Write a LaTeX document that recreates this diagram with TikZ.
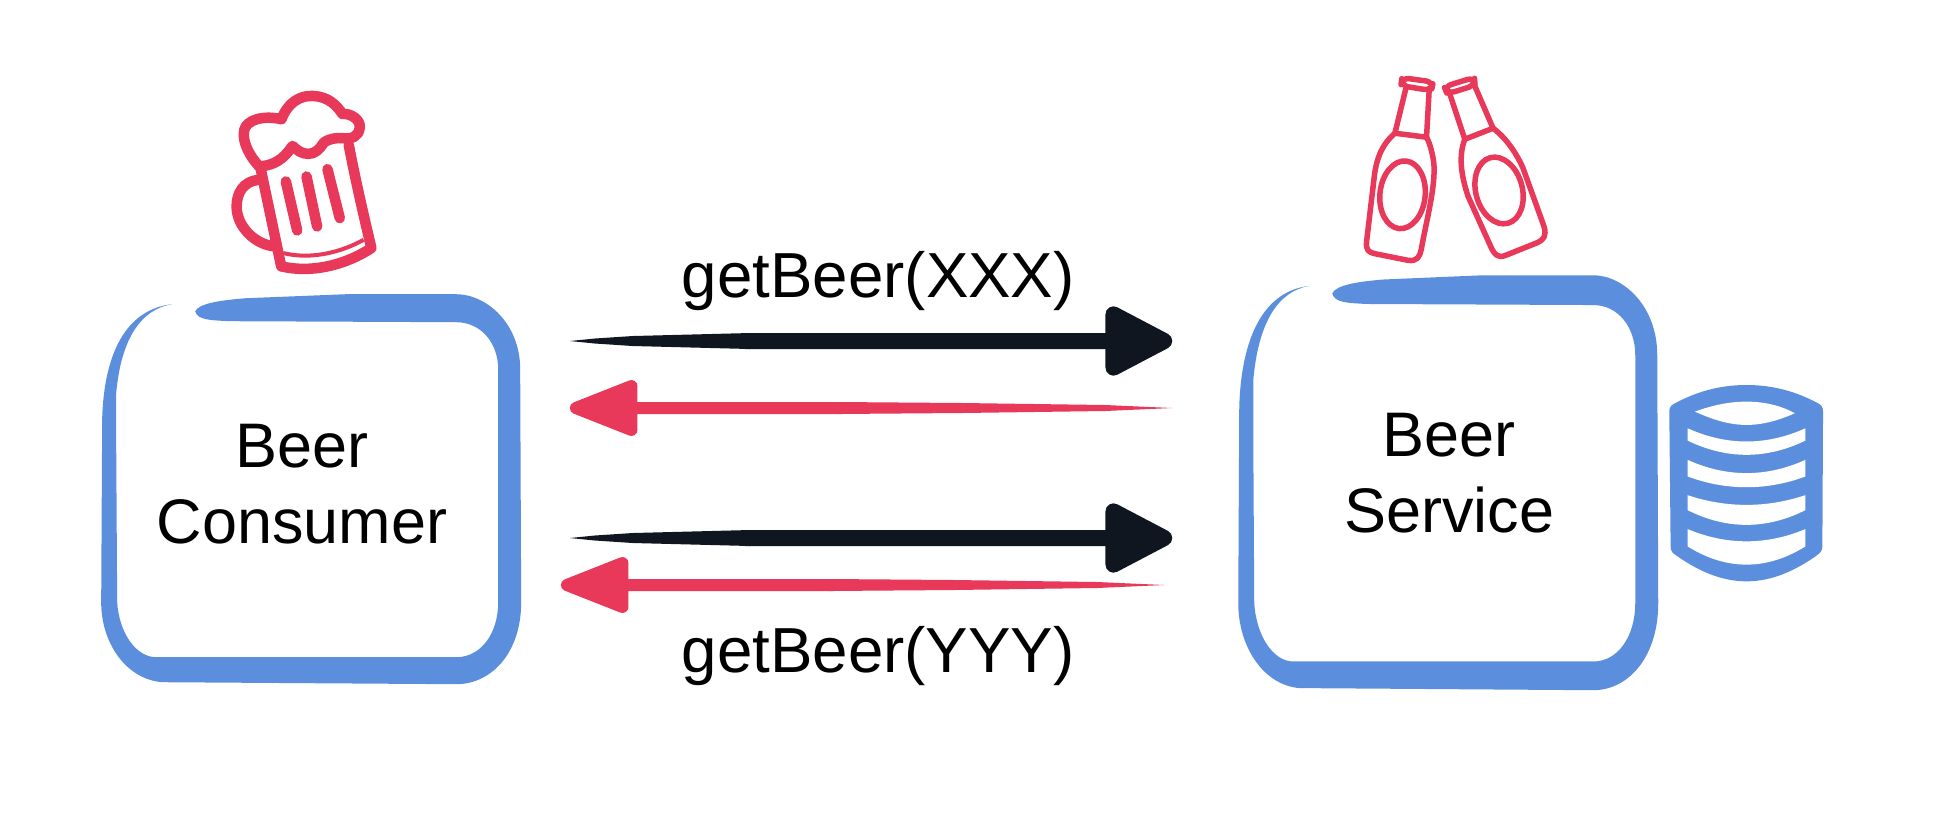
\documentclass[tikz,border=0pt]{standalone}
\usepackage{fontspec}
\setmainfont{Liberation Sans}
\definecolor{brush}{HTML}{5B8FDE}
\definecolor{beer}{HTML}{E8395A}
\definecolor{ink}{HTML}{10161F}
\usetikzlibrary{arrows.meta,positioning}
\tikzset{
  x=0.01cm,y=-0.01cm,
  boxlab/.style={font=\fontsize{17.9}{21.6}\selectfont,align=center,inner sep=0pt,minimum width=4cm},
  msglab/.style={font=\fontsize{18.1}{21.6}\selectfont,inner sep=0pt},
  reqarr/.style={draw=ink,line width=.16cm,shorten <=1.75cm,-{Triangle[length=.77cm,width=.75cm,round]}},
  resparr/.style={draw=beer,line width=.12cm,shorten >=3.3cm,{Triangle[length=.79cm,width=.58cm,round]}-},
  mugline/.style={draw=beer,line width=.105cm,line join=round,line cap=round},
  bottleline/.style={draw=beer,line width=.055cm,line join=round},
  reqtail/.pic={\fill[ink] (0,0) -- (25,-2.5) -- (63,-5) -- (180,-8) -- (180,8) -- (63,5) -- (25,2.5) -- cycle;},
  resptail/.pic={\fill[beer] (0,0) -- (-67,-3) -- (-210,-5) -- (-335,-6) -- (-335,6) -- (-210,5) -- (-67,3) -- cycle;},
  brushframe/.pic={
    \fill[brush] (94,18) .. controls (98,10) and (120,7) .. (145,5) -- (245,1) -- (355,1)
      .. controls (385,1) and (419,30) .. (419,76) -- (420,309)
      .. controls (420,360) and (390,391) .. (355,391) -- (61,389)
      .. controls (25,386) and (0,350) .. (0,309) -- (1,125)
      .. controls (3,60) and (25,16) .. (71,11)
      .. controls (40,16) and (20,45) .. (15,100) -- (15,149) -- (16,309)
      .. controls (18,340) and (35,364) .. (55,364) -- (355,364)
      .. controls (380,364) and (397,340) .. (397,309) -- (397,76)
      .. controls (397,50) and (380,29) .. (355,29) -- (128,28)
      .. controls (110,27) and (96,27) .. (94,18) -- cycle;
  },
}
\begin{document}
\begin{tikzpicture}
\path[use as bounding box,fill=white] (0,0) rectangle (1936,820);
\node[boxlab,minimum height=3.81cm] (consumer) at (302,484.5) {Beer\\Consumer};
\node[boxlab,minimum width=4.2cm,minimum height=3.96cm,right=7.35cm of consumer,yshift=.115cm] (service) {Beer\\Service};
\pic at (consumer.north west) {brushframe};
\pic[yscale=1.064] at (service.north west) {brushframe};
\coordinate (reqa) at ([shift={(67,-143.5)}]consumer.east);
\coordinate (reqb) at ([shift={(-66,-132)}]service.west);
\coordinate (respa) at ([shift={(67,-76.5)}]consumer.east);
\coordinate (respb) at ([shift={(-66,-65)}]service.west);
\coordinate (reqc) at ([shift={(67,53.5)}]consumer.east);
\coordinate (reqd) at ([shift={(-66,65)}]service.west);
\coordinate (respc) at ([shift={(58,100.5)}]consumer.east);
\coordinate (respd) at ([shift={(-74,112)}]service.west);
\draw[reqarr] (reqa) -- node[msglab,pos=.512,above=.22cm] (getxxx) {getBeer(XXX)} (reqb);
\pic at (reqa) {reqtail};
\draw[resparr] (respa) -- (respb);
\pic at (respb) {resptail};
\draw[reqarr] (reqc) -- (reqd);
\pic at (reqc) {reqtail};
\draw[resparr] (respc) -- node[msglab,pos=.526,below=.35cm] (getyyy) {getBeer(YYY)} (respd);
\pic at (respd) {resptail};
\begin{scope}[shift={(200,70)},x=0.00333cm,y=-0.00333cm]
\draw[mugline] (178,290) .. controls (150,260) and (125,215) .. (133,180) .. controls (140,150) and (190,135) .. (245,148) .. controls (262,100) and (300,75) .. (340,78) .. controls (385,80) and (410,105) .. (428,132) .. controls (455,130) and (482,150) .. (480,172) .. controls (478,200) and (455,208) .. (432,205) .. controls (405,203) and (385,208) .. (372,218) .. controls (358,240) and (345,252) .. (325,252) .. controls (305,252) and (290,240) .. (278,228) .. controls (262,250) and (240,285) .. (178,290) -- cycle;
\draw[mugline] (183,300) -- (244,590) .. controls (330,610) and (430,590) .. (515,535) .. controls (490,430) and (465,320) .. (447,225);
\draw[mugline] (175,330) .. controls (130,335) and (110,370) .. (110,410) .. controls (110,470) and (165,525) .. (225,530);
\draw[draw=beer,line width=.04cm] (250,550) .. controls (330,570) and (420,550) .. (492,510);
\foreach \xa/\ya/\xb/\yb in {258/335/292/482,320/320/352/470,383/298/420/445}
  \draw[mugline] (\xa,\ya) -- (\xb,\yb);
\end{scope}
\begin{scope}[shift={(1330,60)},x=0.00333cm,y=-0.00333cm]
\draw[bottleline,rounded corners=2pt] (216,53) -- (310,66) -- (305,92) -- (213,77) -- cycle;
\draw[bottleline] (228,85) -- (195,220) -- (290,232) -- (298,90);
\draw[bottleline] (195,220) .. controls (160,250) and (140,290) .. (133,350) -- (110,545) .. controls (107,570) and (115,578) .. (135,582) -- (235,602) .. controls (262,606) and (270,590) .. (274,570) .. controls (290,480) and (318,380) .. (312,310) .. controls (308,280) and (300,250) .. (290,232);
\draw[bottleline,rotate around={-6:(218,405)}] (218,405) ellipse [x radius=68,y radius=102];
\draw[bottleline,rounded corners=2pt] (343,80) -- (434,52) -- (436,76) -- (352,102) -- cycle;
\draw[bottleline] (360,102) -- (405,238) -- (490,205) -- (435,78);
\draw[bottleline] (490,205) .. controls (530,235) and (560,280) .. (580,325) -- (643,500) .. controls (652,530) and (640,540) .. (625,548) -- (525,588) .. controls (505,595) and (495,585) .. (485,565) -- (415,410) .. controls (395,350) and (385,290) .. (405,238);
\draw[bottleline,rotate around={15:(508,392)}] (508,392) ellipse [x radius=70,y radius=102];
\end{scope}
\begin{scope}[shift={(1640,370)},x=0.00333cm,y=-0.00333cm]
\fill[brush] (88,125) .. controls (88,110) and (95,105) .. (105,100) .. controls (170,65) and (240,45) .. (320,45) .. controls (400,45) and (470,65) .. (535,100) .. controls (545,105) and (550,112) .. (550,125) -- (548,530) .. controls (548,545) and (540,550) .. (530,558) .. controls (470,600) and (400,635) .. (320,635) .. controls (240,635) and (170,600) .. (110,558) .. controls (98,550) and (92,545) .. (92,530) -- cycle;
\fill[white] (165,125) .. controls (220,105) and (270,95) .. (320,95) .. controls (370,95) and (420,105) .. (465,130) .. controls (420,150) and (370,165) .. (320,165) .. controls (270,165) and (220,150) .. (165,125) -- cycle;
\foreach \ya/\ca/\yb/\cb in {175/228/212/269,270/323/320/363,376/415/421/480,478/527/530/603}
  \fill[white] (143,\ya) .. controls (260,\ca) and (380,\ca) .. (497,\ya) -- (497,\yb) .. controls (380,\cb) and (260,\cb) .. (143,\yb) -- cycle;
\end{scope}
\end{tikzpicture}
\end{document}
